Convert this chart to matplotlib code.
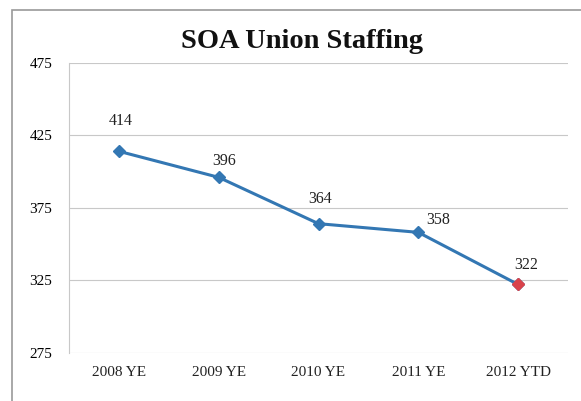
import matplotlib.pyplot as plt
from matplotlib.patches import Rectangle

categories = ['2008 YE', '2009 YE', '2010 YE', '2011 YE', '2012 YTD']
staffing = [414, 396, 364, 358, 322]
yticks = [275, 325, 375, 425, 475]

# label offsets (points) as placed in the original chart
label_dx = [1, 4, 1, 14, 6]
label_dy = [22, 12, 18, 9, 14]

plt.rcParams['font.family'] = ['Liberation Serif', 'DejaVu Serif']

fig = plt.figure(figsize=(5.81, 4.01), dpi=100)
fig.patches.append(Rectangle((12/581, -0.01), 1.0, 1 - 10/401 + 0.01,
                             transform=fig.transFigure, fill=False,
                             edgecolor='#9a9a9a', linewidth=1.2))
ax = fig.add_axes([69/581, 1 - 352.5/401, 499/581, 289.5/401])

x = list(range(len(categories)))
ax.plot(x, staffing, color='#3377b3', linewidth=2.2, marker='D', markersize=6,
        markerfacecolor='#3377b3', markeredgecolor='#3377b3', zorder=3)
ax.plot(x[-1], staffing[-1], marker='D', markersize=6, color='#d9434b', zorder=4)

for xi, v, dx, dy in zip(x, staffing, label_dx, label_dy):
    ax.annotate(str(v), (xi, v), xytext=(dx, dy), textcoords='offset points',
                ha='center', va='center', fontsize=11.5, color='#222222')

ax.set_xlim(-0.5, len(categories) - 0.5)
ax.set_ylim(275, 475)
ax.set_yticks(yticks)
ax.set_xticks(x)
ax.set_xticklabels(categories, fontsize=11)
ax.tick_params(axis='y', labelsize=11, length=0, pad=12)
ax.tick_params(axis='x', length=0, pad=10, colors='#222222')
ax.grid(axis='y', color='#c8c8c8', linewidth=0.8)
ax.set_axisbelow(True)
for s in ['top', 'right', 'bottom']:
    ax.spines[s].set_visible(False)
ax.spines['left'].set_color('#c8c8c8')

fig.text(302/581, 1 - 42/401, 'SOA Union Staffing', ha='center', va='center',
         fontsize=20.5, fontweight='bold', color='#111111')

fig.savefig('out.png', dpi=100)
